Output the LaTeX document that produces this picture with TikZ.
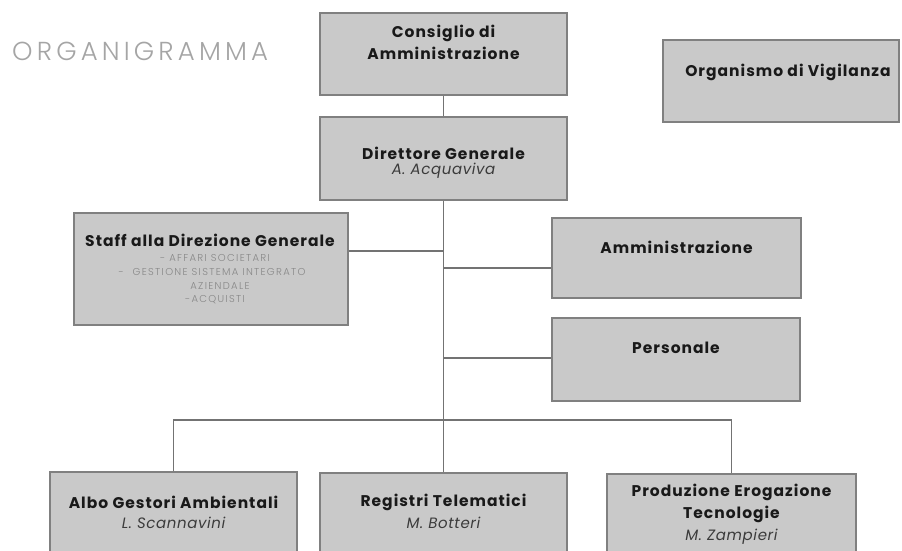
\documentclass[tikz,border=0pt]{standalone}
\usepackage{fontspec}
\setmainfont{Poppins}
\newfontfamily\lightfont{Poppins}[UprightFont={* Light}]
\definecolor{boxfill}{RGB}{201,201,201}
\definecolor{boxline}{RGB}{128,128,128}
\definecolor{conn}{RGB}{115,115,115}
\definecolor{titlegrey}{RGB}{165,165,165}
\definecolor{subgrey}{RGB}{135,135,135}
\definecolor{ink}{RGB}{25,25,25}
\tikzset{
  orgbox/.style={draw=boxline, fill=boxfill, line width=1.3pt, rectangle, inner sep=0pt},
  btitle/.style={font=\fontsize{15.5}{18}\selectfont\bfseries\addfontfeatures{LetterSpace=6.5}, text=ink, inner sep=0pt, anchor=center},
  iname/.style={font=\fontsize{15}{18}\selectfont\itshape\addfontfeatures{LetterSpace=4}, text=ink!85, inner sep=0pt, anchor=center},
  subitem/.style={font=\lightfont\fontsize{10}{12}\selectfont\addfontfeatures{LetterSpace=13}, text=subgrey, inner sep=0pt, anchor=center},
  link/.style={draw=conn, line width=1.2pt}
}
\begin{document}
\begin{tikzpicture}[x=1pt,y=-1pt]
\useasboundingbox (0,0) rectangle (902,551);
\clip (0,0) rectangle (902,551);
\fill[white] (0,0) rectangle (902,551);

% title
\node[font=\lightfont\fontsize{26}{30}\selectfont\addfontfeatures{LetterSpace=16}, text=titlegrey, anchor=west, inner sep=0pt] (title) at (12,51) {ORGANIGRAMMA};

% boxes
\node[orgbox, minimum width=247pt, minimum height=82pt] (cda) at (443.5,54) {};
\node[orgbox, minimum width=247pt, minimum height=83pt] (dg) at (443.5,158.5) {};
\node[orgbox, minimum width=236pt, minimum height=82pt] (odv) at (781,81) {};
\node[orgbox, minimum width=274pt, minimum height=112pt] (staff) at (211,269) {};
\node[orgbox, minimum width=249pt, minimum height=80pt] (amm) at (676.5,258) {};
\node[orgbox, minimum width=248pt, minimum height=83pt] (pers) at (676,359.5) {};
\node[orgbox, minimum width=247pt, minimum height=88pt] (albo) at (173.5,516) {};
\node[orgbox, minimum width=247pt, minimum height=87pt] (reg) at (443.5,516.5) {};
\node[orgbox, minimum width=249pt, minimum height=86pt] (prod) at (731.5,517) {};

% texts
\node[btitle] (cdaA) at (443.5,33) {Consiglio di};
\node[btitle] (cdaB) at (443.5,53) {Amministrazione};
\node[btitle] (dgA) at (443.5,153) {Direttore Generale};
\node[iname] (dgB) at (443.5,171) {A. Acquaviva};
\node[btitle] (odvA) at (788,72) {Organismo di Vigilanza};
\node[btitle] (staffA) at (210,240) {Staff alla Direzione Generale};
\node[subitem] (staffB) at (215,258) {- AFFARI SOCIETARI};
\node[subitem] (staffC) at (212,272) {-\hspace{9pt}GESTIONE SISTEMA INTEGRATO};
\node[subitem] (staffD) at (220,286) {AZIENDALE};
\node[subitem] (staffE) at (215,300) {-ACQUISTI};
\node[btitle] (ammA) at (676.5,247) {Amministrazione};
\node[btitle] (persA) at (676,348) {Personale};
\node[btitle] (alboA) at (173.5,502) {Albo Gestori Ambientali};
\node[iname] (alboB) at (173.5,523) {L. Scannavini};
\node[btitle] (regA) at (443.5,502) {Registri Telematici};
\node[iname] (regB) at (443.5,523) {M. Botteri};
\node[btitle] (prodA) at (731.5,492) {Produzione Erogazione};
\node[btitle] (prodB) at (731.5,514.5) {Tecnologie};
\node[iname] (prodC) at (731.5,537) {M. Zampieri};

% connectors
\coordinate (tS) at (443.5,251);
\coordinate (tA) at (443.5,268);
\coordinate (tP) at (443.5,358);
\coordinate (bus) at (443.5,420);
\draw[link] (cda.south) -- (dg.north);
\draw[link] (dg.south) -- (reg.north);
\draw[link] (tS) -- (tS -| staff.east);
\draw[link] (tA) -- (tA -| amm.west);
\draw[link] (tP) -- (tP -| pers.west);
\draw[link] (albo.north) -- (albo.north |- bus) -- (prod.north |- bus) -- (prod.north);
\end{tikzpicture}
\end{document}
